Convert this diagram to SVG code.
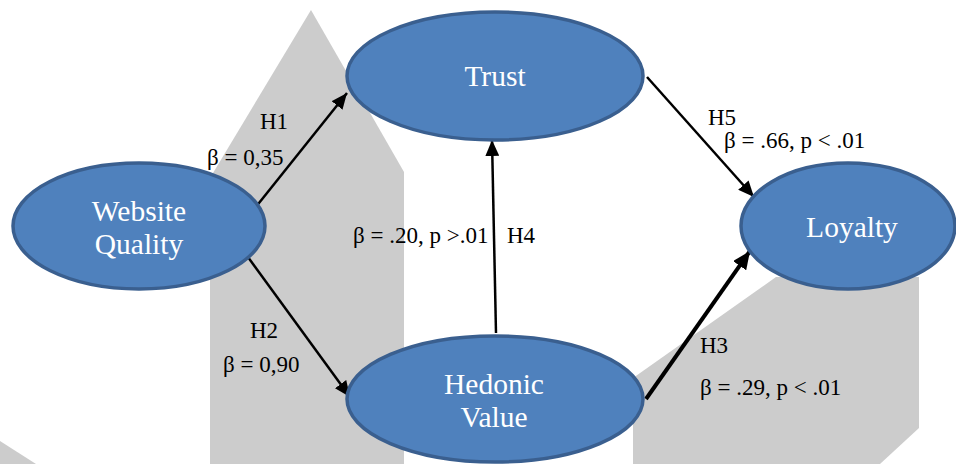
<svg xmlns="http://www.w3.org/2000/svg" width="956" height="464" viewBox="0 0 956 464">
<style>
.bg{fill:#cccccc;stroke:none}
.node{fill:#4f81bd;stroke:#3a5f8f;stroke-width:3.5}
.nt{font-size:29.5px;fill:#ffffff;text-anchor:middle}
.lbl{font-size:23px;fill:#000000}
.edge{stroke:#000000;stroke-width:2.5;fill:none;marker-end:url(#ah)}
.edge.thick{stroke-width:4;marker-end:url(#ah2)}
</style>
<defs>
<marker id="ah" viewBox="0 0 16 14" refX="16" refY="7" markerWidth="16" markerHeight="14" markerUnits="userSpaceOnUse" orient="auto">
<path d="M0,0 L16,7 L0,14 z" fill="#000000"/>
</marker>
<marker id="ah2" viewBox="0 0 18 16" refX="18" refY="8" markerWidth="18" markerHeight="16" markerUnits="userSpaceOnUse" orient="auto">
<path d="M0,0 L18,8 L0,16 z" fill="#000000"/>
</marker>
</defs>
<rect width="956" height="464" fill="#ffffff"/>
<g id="background">
<polygon class="bg" points="311,10 404,172 404,464 210,464 210,178"/>
<polygon class="bg" points="633,464 633,378 776,277 919,277 919,428 880,464"/>
<polygon class="bg" points="0,441 36,464 0,464"/>
</g>
<g id="connectors">
<line class="edge" x1="255" y1="208" x2="347" y2="93"/>
<line class="edge" x1="245" y1="253" x2="350" y2="397"/>
<line class="edge" x1="496" y1="333" x2="492" y2="140"/>
<line class="edge" x1="647" y1="77" x2="754" y2="197"/>
<line class="edge thick" x1="646" y1="399" x2="750" y2="251"/>
</g>
<g id="labels">
<text class="lbl" font-family="Liberation Serif, serif" x="260" y="129">H1</text>
<text class="lbl" font-family="Liberation Serif, serif" x="207" y="165">β = 0,35</text>
<text class="lbl" font-family="Liberation Serif, serif" x="250" y="338">H2</text>
<text class="lbl" font-family="Liberation Serif, serif" x="223" y="372">β = 0,90</text>
<text class="lbl" font-family="Liberation Serif, serif" x="353" y="243">β = .20, p &gt;.01</text>
<text class="lbl" font-family="Liberation Serif, serif" x="507" y="243">H4</text>
<text class="lbl" font-family="Liberation Serif, serif" x="708" y="125">H5</text>
<text class="lbl" font-family="Liberation Serif, serif" x="724" y="148">β = .66, p &lt; .01</text>
<text class="lbl" font-family="Liberation Serif, serif" x="700" y="353">H3</text>
<text class="lbl" font-family="Liberation Serif, serif" x="700" y="395">β = .29, p &lt; .01</text>
</g>
<g id="node-website-quality">
<ellipse class="node" cx="139" cy="226" rx="126" ry="63"/>
<text class="nt" font-family="Liberation Serif, serif" x="139" y="221">Website</text>
<text class="nt" font-family="Liberation Serif, serif" x="139" y="254">Quality</text>
</g>
<g id="node-trust">
<ellipse class="node" cx="495" cy="76" rx="148" ry="64"/>
<text class="nt" font-family="Liberation Serif, serif" x="495" y="86">Trust</text>
</g>
<g id="node-hedonic-value">
<ellipse class="node" cx="495" cy="399" rx="148" ry="63"/>
<text class="nt" font-family="Liberation Serif, serif" x="494" y="394">Hedonic</text>
<text class="nt" font-family="Liberation Serif, serif" x="494" y="427">Value</text>
</g>
<g id="node-loyalty">
<ellipse class="node" cx="848" cy="226" rx="107" ry="63"/>
<text class="nt" font-family="Liberation Serif, serif" x="852" y="237">Loyalty</text>
</g>
</svg>
